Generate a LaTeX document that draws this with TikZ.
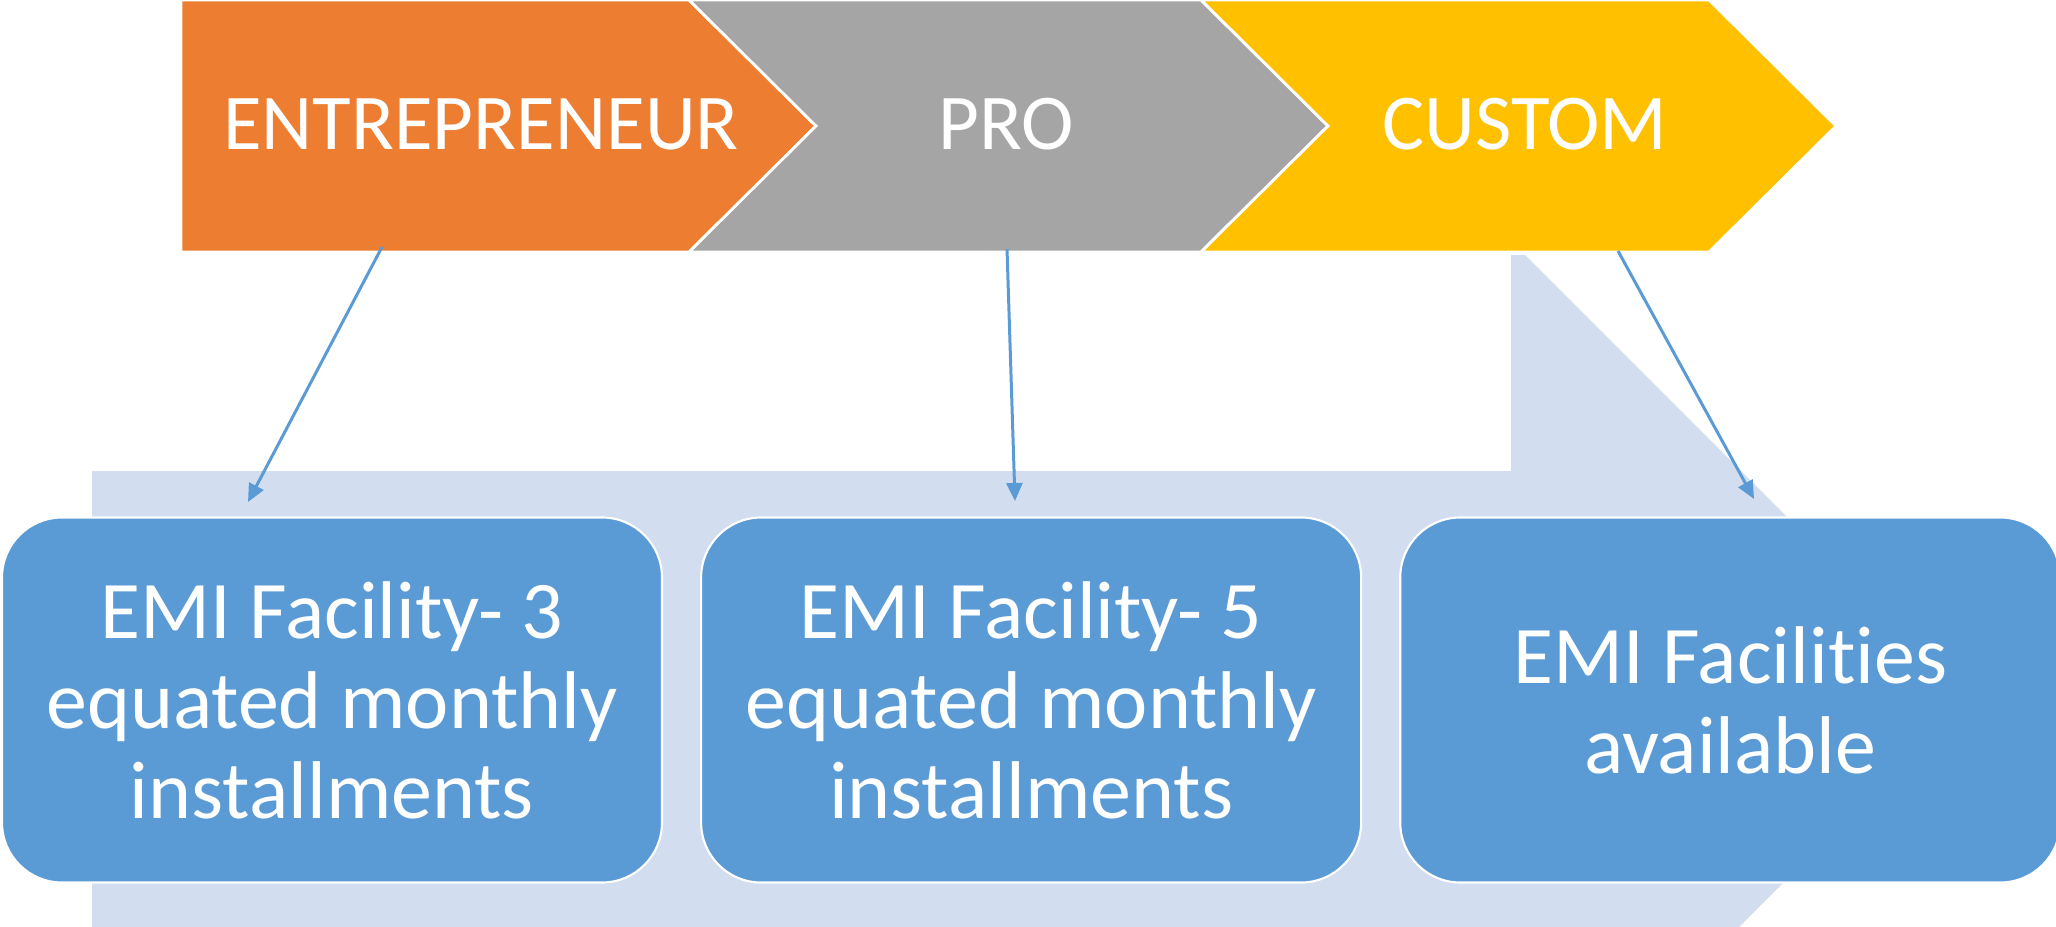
\documentclass[tikz,border=0pt]{standalone}
\usepackage{fontspec}
\setmainfont{Carlito}[Ligatures=NoCommon,Numbers=Lining]
\usetikzlibrary{arrows.meta,positioning}
\definecolor{tangerine}{RGB}{237,125,49}
\definecolor{slate}{RGB}{165,165,165}
\definecolor{gold}{RGB}{255,192,0}
\definecolor{sky}{RGB}{91,155,213}
\definecolor{mist}{RGB}{210,222,239}
\tikzset{
  >={Triangle[length=1.8mm,width=1.6mm]},
  chev/.style={fill=#1,draw=white,line width=0.8pt},
  chev/.default=slate,
  tier/.style={text=white,inner sep=0pt,font=\fontsize{22.5}{27}\selectfont},
  plan/.style={fill=sky,draw=white,line width=0.6pt,rounded corners=6mm,
    minimum width=66mm,minimum height=36.5mm,align=center,text=white,
    font=\fontsize{23.3}{25.6}\selectfont},
  link/.style={->,draw=sky,line width=0.85pt},
}
\begin{document}
\begin{tikzpicture}
  \useasboundingbox (0,0) rectangle (20.56,-9.27);
  \clip (0,0) rectangle (20.56,-9.27);
  % background arrow
  \fill[mist] (0.92,-4.71) -- (15.11,-4.71) -- (15.11,-2.55) -- (15.25,-2.55) -- (19.68,-6.98)
    -- (15.25,-11.41) -- (15.11,-11.41) -- (15.11,-9.4) -- (0.92,-9.4) -- cycle;
  % chevrons
  \draw[chev=tangerine] (1.81,0) -- (6.89,0) -- (8.16,-1.26) -- (6.89,-2.52) -- (1.81,-2.52) -- cycle;
  \draw[chev=slate] (6.89,0) -- (12.01,0) -- (13.28,-1.26) -- (12.01,-2.52) -- (6.89,-2.52) -- (8.16,-1.26) -- cycle;
  \draw[chev=gold] (12.01,0) -- (17.09,0) -- (18.36,-1.26) -- (17.09,-2.52) -- (12.01,-2.52) -- (13.28,-1.26) -- cycle;
  \node[tier] (ent) at (4.81,-1.24) {ENTREPRENEUR};
  \node[tier] (pro) at (10.06,-1.24) {PRO};
  \node[tier] (cus) at (15.25,-1.24) {CUSTOM};
  % plans
  \node[plan] (b1) at (3.32,-7.0) {EMI Facility- 3\\equated monthly\\installments};
  \node[plan,right=3.7mm of b1] (b2) {EMI Facility- 5\\equated monthly\\installments};
  \node[plan,right=3.7mm of b2] (b3) {EMI Facilities\\available};
  % links
  \coordinate (s1) at (3.82,-2.47);
  \coordinate (e1) at (2.48,-5.02);
  \coordinate (s2) at (10.07,-2.49);
  \coordinate (e2) at (10.15,-5.01);
  \coordinate (s3) at (16.18,-2.51);
  \coordinate (e3) at (17.54,-4.99);
  \draw[link] (s1) -- (e1);
  \draw[link] (s2) -- (e2);
  \draw[link] (s3) -- (e3);
\end{tikzpicture}
\end{document}
